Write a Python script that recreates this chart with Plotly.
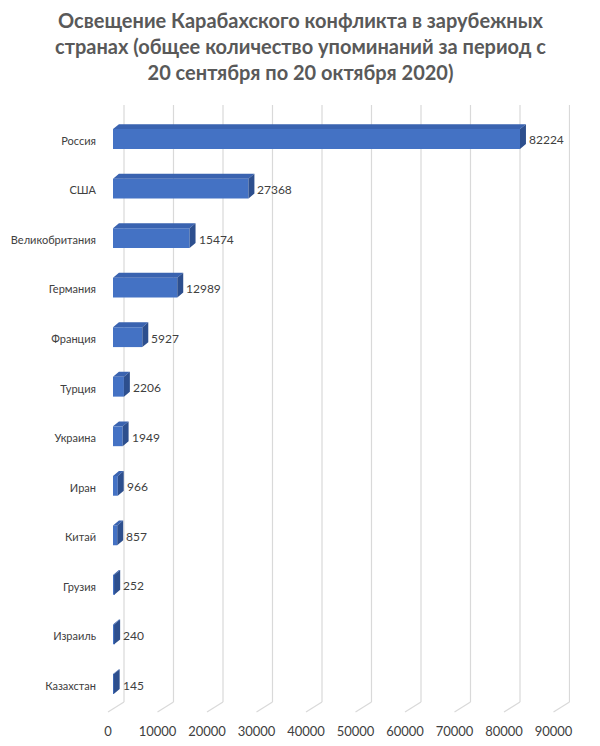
import plotly.graph_objects as go

# data
countries = ['Россия', 'США', 'Великобритания', 'Германия', 'Франция', 'Турция',
             'Украина', 'Иран', 'Китай', 'Грузия', 'Израиль', 'Казахстан']
mentions = [82224, 27368, 15474, 12989, 5927, 2206, 1949, 966, 857, 252, 240, 145]
tick_vals = [0, 10000, 20000, 30000, 40000, 50000, 60000, 70000, 80000, 90000]

title = ('Освещение Карабахского конфликта в зарубежных<br>'
         'странах (общее количество упоминаний за период с<br>'
         '20 сентября по 20 октября 2020)')

# look of the fake 3D bars
front_col = '#4472C4'
top_col = '#3A63B0'
side_col = '#2D4F8E'
bar_w = 0.40          # bar thickness in category units
depth_x = 1200        # sideways depth of a bar, in axis units
depth_y = 0.10        # upward depth of a bar, in category units
font = 'Lato'

idx = list(range(len(countries)))

# polygons for the top and side faces (gaps split them into separate shapes)
top_x, top_y, side_x, side_y = [], [], [], []
for i, v in zip(idx, mentions):
    y_top = i - bar_w / 2
    y_bot = i + bar_w / 2
    top_x += [0, v, v + depth_x, depth_x, 0, None]
    top_y += [y_top, y_top, y_top - depth_y, y_top - depth_y, y_top, None]
    side_x += [v, v + depth_x, v + depth_x, v, v, None]
    side_y += [y_top, y_top - depth_y, y_bot - depth_y, y_bot, y_top, None]

fig = go.Figure()
fig.add_trace(go.Scatter(x=top_x, y=top_y, fill='toself', fillcolor=top_col,
                         mode='none', hoverinfo='skip'))
fig.add_trace(go.Scatter(x=side_x, y=side_y, fill='toself', fillcolor=side_col,
                         mode='none', hoverinfo='skip'))
fig.add_trace(go.Bar(x=mentions, y=idx, orientation='h', width=bar_w,
                     marker=dict(color=front_col, line=dict(width=0)),
                     hoverinfo='x+text', hovertext=countries))

# value labels right of each bar
for i, v in zip(idx, mentions):
    fig.add_annotation(x=v, y=i, text=str(v), showarrow=False, xanchor='left',
                       xshift=7, yshift=-1, font=dict(size=12, color='#404040', family=font))

# back wall gridlines with a slanted floor piece
for t in tick_vals:
    fig.add_shape(type='line', xref='x', yref='paper', xsizemode='pixel', xanchor=t,
                  x0=-5, x1=11, y0=0, y1=0.0165, layer='below',
                  line=dict(color='#D9D9D9', width=1.2))
    fig.add_shape(type='line', xref='x', yref='paper', xsizemode='pixel', xanchor=t,
                  x0=11, x1=11, y0=0.0165, y1=1, layer='below',
                  line=dict(color='#D9D9D9', width=1.2))

# title as an annotation, centred on the page (page body adds an 8px margin)
fig.add_annotation(text=title, xref='paper', yref='paper', x=200 / 470,
                   y=1, yshift=59, showarrow=False, xanchor='center', yanchor='middle',
                   font=dict(family=font, size=20, color='#595959', weight='bold'))

fig.update_layout(
    width=592, height=738,
    margin=dict(l=92, r=30, t=97, b=34),
    plot_bgcolor='white', paper_bgcolor='white',
    showlegend=False,
    xaxis=dict(range=[-2626, 92323], tickvals=tick_vals,
               ticktext=[str(t) for t in tick_vals], showgrid=False,
               zeroline=False, showline=False, ticklabelshift=-5,
               ticklabelstandoff=10, automargin=False,
               tickfont=dict(family=font, size=13, color='#404040')),
    yaxis=dict(range=[11.565, -0.686], tickvals=idx, ticktext=countries,
               showgrid=False, zeroline=False, showline=False, automargin=False,
               ticklabelstandoff=3, ticklabelshift=-2,
               tickfont=dict(family=font, size=11, color='#404040')),
)

fig.write_html('out.html')
